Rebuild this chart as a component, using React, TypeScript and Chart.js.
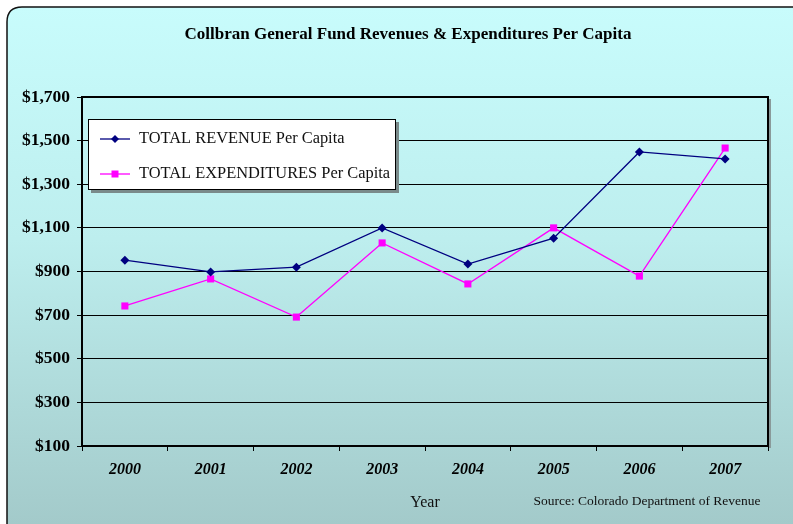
import { useEffect, useRef } from 'react';
import { Chart, registerables } from 'chart.js';

Chart.register(...registerables);

const years = ['2000', '2001', '2002', '2003', '2004', '2005', '2006', '2007'];
const revenue = [952, 898, 920, 1100, 934, 1053, 1448, 1416];
const expenditures = [742, 866, 691, 1031, 843, 1100, 879, 1466];
const yTickValues = [100, 300, 500, 700, 900, 1100, 1300, 1500, 1700];
const revenueLabel = 'TOTAL REVENUE Per Capita';
const expendituresLabel = 'TOTAL EXPENDITURES Per Capita';
const chartTitle = 'Collbran General Fund Revenues & Expenditures Per Capita';
const xAxisTitle = 'Year';
const sourceNote = 'Source: Colorado Department of Revenue';

const SERIF = '"Liberation Serif", "Times New Roman", serif';

const framePlugin = {
  id: 'frame',
  beforeDraw(chart: any) {
    const { ctx } = chart;
    ctx.save();
    const g = ctx.createLinearGradient(0, 7, 0, 524);
    g.addColorStop(0, '#c8fcfc');
    g.addColorStop(0.45, '#bdeeee');
    g.addColorStop(1, '#a3caca');
    ctx.beginPath();
    const x = 7, y = 7, w = 840, h = 560, r = 15;
    ctx.moveTo(x + r, y);
    ctx.lineTo(x + w, y);
    ctx.lineTo(x + w, y + h);
    ctx.lineTo(x, y + h);
    ctx.lineTo(x, y + r);
    ctx.quadraticCurveTo(x, y, x + r, y);
    ctx.closePath();
    ctx.fillStyle = g;
    ctx.fill();
    ctx.lineWidth = 1.5;
    ctx.strokeStyle = '#111';
    ctx.stroke();
    ctx.restore();
  },
  beforeDatasetsDraw(chart: any) {
    const { ctx, chartArea: a } = chart;
    ctx.save();
    ctx.strokeStyle = '#8a9a9a';
    ctx.lineWidth = 2;
    ctx.beginPath();
    ctx.moveTo(a.right + 2, a.top + 2);
    ctx.lineTo(a.right + 2, a.bottom + 2);
    ctx.stroke();
    ctx.strokeStyle = '#000';
    ctx.lineWidth = 2;
    ctx.strokeRect(a.left, a.top, a.right - a.left, a.bottom - a.top);
    ctx.restore();
  },
  afterDraw(chart: any) {
    const { ctx } = chart;
    ctx.save();
    ctx.fillStyle = '#000';
    ctx.textAlign = 'center';
    ctx.textBaseline = 'middle';
    ctx.font = `bold 17px ${SERIF}`;
    ctx.fillText(chartTitle, 408, 35);
    ctx.font = `16px ${SERIF}`;
    ctx.fillStyle = '#111';
    ctx.fillText(xAxisTitle, 425, 503);
    ctx.font = `13.5px ${SERIF}`;
    ctx.fillText(sourceNote, 647, 501);

    // legend
    const lx = 88, ly = 119, lw = 308, lh = 71;
    ctx.fillStyle = '#7a8a8a';
    ctx.fillRect(lx + 3, ly + 3, lw, lh);
    ctx.fillStyle = '#fff';
    ctx.fillRect(lx, ly, lw, lh);
    ctx.strokeStyle = '#000';
    ctx.lineWidth = 1;
    ctx.strokeRect(lx + 0.5, ly + 0.5, lw - 1, lh - 1);
    const rows = [139, 174];
    chart.data.datasets.forEach((ds: any, i: number) => {
      const yy = rows[i];
      ctx.strokeStyle = ds.borderColor;
      ctx.lineWidth = ds.borderWidth;
      ctx.beginPath();
      ctx.moveTo(100, yy);
      ctx.lineTo(130, yy);
      ctx.stroke();
      ctx.fillStyle = ds.borderColor;
      ctx.beginPath();
      if (ds.pointStyle === 'rectRot') {
        const r = 4;
        ctx.moveTo(115, yy - r);
        ctx.lineTo(115 + r, yy);
        ctx.lineTo(115, yy + r);
        ctx.lineTo(115 - r, yy);
        ctx.closePath();
      } else {
        ctx.rect(111.5, yy - 3.5, 7, 7);
      }
      ctx.fill();
      ctx.fillStyle = '#111';
      ctx.textAlign = 'left';
      ctx.font = `16.4px ${SERIF}`;
      ctx.fillText(ds.label, 139, yy);
    });
    ctx.restore();
  },
};

export default function App() {
  const ref = useRef<HTMLCanvasElement>(null);
  useEffect(() => {
    document.body.style.margin = '0';
    const chart = new Chart(ref.current!, {
      type: 'line',
      data: {
        labels: years,
        datasets: [
          {
            label: revenueLabel,
            data: revenue,
            borderColor: '#000080',
            backgroundColor: '#000080',
            borderWidth: 1.3,
            pointStyle: 'rectRot',
            pointRadius: 4.5,
            pointBorderWidth: 0,
            tension: 0,
          },
          {
            label: expendituresLabel,
            data: expenditures,
            borderColor: '#ff00ff',
            backgroundColor: '#ff00ff',
            borderWidth: 1.3,
            pointStyle: 'rect',
            pointRadius: 5,
            pointBorderWidth: 0,
            tension: 0,
          },
        ],
      },
      options: {
        responsive: false,
        animation: false,
        devicePixelRatio: 1,
        layout: { padding: { top: 97, right: 25, left: 0, bottom: 0 } },
        plugins: {
          legend: { display: false },
          title: { display: false },
          tooltip: { enabled: false },
        },
        scales: {
          x: {
            offset: true,
            afterFit: (s: any) => { s.height = 78; },
            grid: {
              offset: true,
              drawOnChartArea: false,
              drawTicks: true,
              tickLength: 5,
              color: '#000',
            },
            border: { display: false },
            ticks: {
              color: '#000',
              padding: 9,
              font: { family: SERIF, size: 16, weight: 'bold', style: 'italic' },
            },
          },
          y: {
            min: 100,
            max: 1700,
            afterFit: (s: any) => { s.width = 82; },
            afterBuildTicks: (s: any) => {
              s.ticks = yTickValues.map((v) => ({ value: v }));
            },
            grid: {
              color: '#000',
              lineWidth: 1,
              drawTicks: true,
              tickLength: 5,
            },
            border: { display: false },
            ticks: {
              color: '#000',
              padding: 7,
              font: { family: SERIF, size: 17.5, weight: 'bold' },
              callback: (v: any) => '$' + Number(v).toLocaleString('en-US'),
            },
          },
        },
      },
      plugins: [framePlugin],
    });
    return () => chart.destroy();
  }, []);
  return (
    <div style={{ position: 'absolute', left: 0, top: 0, width: 793, height: 524 }}>
      <canvas ref={ref} width={793} height={524} />
    </div>
  );
}
